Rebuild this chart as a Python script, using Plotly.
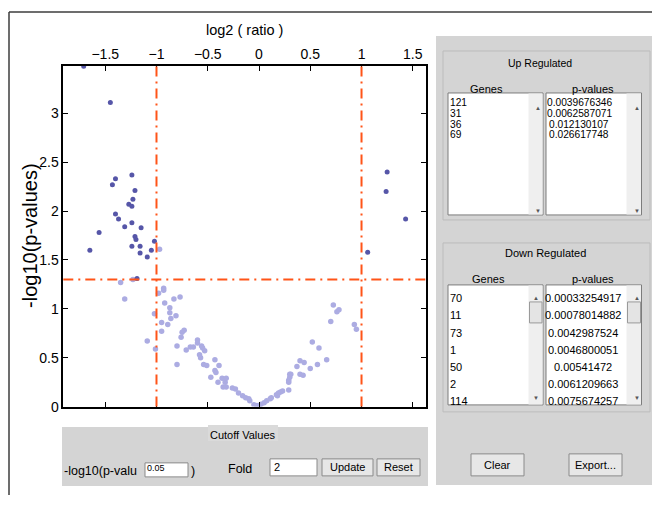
import plotly.graph_objects as go

# ---------------- data ----------------
# non-significant genes (light points)
ns_x = [-0.97, -1.35, -1.23, -1.31, -0.98, -0.93, -0.93, -0.77, -0.83, -0.92, -0.87, -1.02,
        -0.87, -0.81, -0.86, -0.95, -0.89, -0.73, -0.75, -0.95, -0.76, -1.09, -0.60, -0.60,
        -0.80, -0.56, -0.55, -1.01, -0.67, -0.64, -0.71, -0.53, -0.58, -0.57, -0.43, -0.80,
        -0.54, -0.51, -0.39, -0.43, -0.42, -0.47, -0.36, -0.32, -0.40, -0.33, -0.35, -0.32,
        -0.26, -0.23, -0.20, -0.16, -0.13, -0.10, -0.09, -0.05, -0.02, 0.00,
        0.02, 0.05, 0.075, 0.11, 0.12, 0.17, 0.18, 0.19, 0.21, 0.23, 0.29, 0.29, 0.30, 0.29,
        0.31, 0.30, 0.37, 0.40, 0.44, 0.40, 0.43, 0.50, 0.57, 0.52, 0.585, 0.66, 0.70, 0.725,
        0.76, 0.78, 0.93, 0.95]
ns_y = [1.61, 1.27, 1.30, 1.10, 1.16, 1.21, 1.19, 1.12, 1.10, 1.06, 1.01, 0.95,
        0.96, 0.93, 0.90, 0.86, 0.84, 0.78, 0.76, 0.77, 0.71, 0.67, 0.68, 0.65,
        0.62, 0.62, 0.60, 0.59, 0.61, 0.61, 0.58, 0.57, 0.53, 0.50, 0.48, 0.43,
        0.43, 0.42, 0.42, 0.37, 0.35, 0.30, 0.29, 0.29, 0.25, 0.25, 0.20, 0.20,
        0.19, 0.18, 0.14, 0.11, 0.09, 0.08, 0.06, 0.02, 0.01, 0.005,
        0.025, 0.04, 0.06, 0.08, 0.09, 0.12, 0.11, 0.14, 0.15, 0.16, 0.17, 0.27, 0.30, 0.25,
        0.33, 0.33, 0.41, 0.47, 0.45, 0.33, 0.32, 0.39, 0.43, 0.66, 0.60, 0.48, 0.87, 1.04,
        0.97, 0.99, 0.84, 0.79]

# down-regulated genes (dark points, left)
down_x = [-1.71, -1.45, -1.40, -1.43, -1.24, -1.21, -1.23, -1.27, -1.24, -1.40, -1.37, -1.24,
          -1.31, -1.15, -1.56, -1.21, -1.20, -1.02, -1.24, -1.16, -1.65, -1.05, -1.16, -1.09,
          -1.19]
down_y = [3.48, 3.11, 2.33, 2.27, 2.37, 2.21, 2.12, 2.07, 2.05, 1.97, 1.92, 1.88,
          1.84, 1.83, 1.78, 1.74, 1.71, 1.69, 1.64, 1.64, 1.60, 1.60, 1.57, 1.53,
          1.31]

# up-regulated genes (dark points, right)
up_x = [1.25, 1.24, 1.43, 1.06]
up_y = [2.40, 2.20, 1.92, 1.58]

# cut-offs
fold_cutoff_log2 = 1.0
pval_cutoff_log10 = 1.301

x_ticks = [-1.5, -1, -0.5, 0, 0.5, 1, 1.5]
y_ticks = [0, 0.5, 1, 1.5, 2, 2.5, 3]

up_genes = ["121", "31", "36", "69"]
up_pvals = ["0.0039676346", "0.0062587071", "0.012130107", "0.026617748"]
down_genes = ["70", "11", "73", "1", "50", "2", "114"]
down_pvals = ["0.00033254917", "0.00078014882", "0.0042987524", "0.0046800051",
              "0.00541472", "0.0061209663", "0.0075674257"]

# ---------------- figure ----------------
W, H = 658, 510
K = 518 / 510  # vertical layout factor


def fx(p):
    return p / W


def fy(p):
    return 1 - p * K / H


FONT = "Liberation Sans, Arial, Helvetica, sans-serif"
LIGHT = "rgb(172,172,226)"
DARK = "rgb(86,86,168)"
CUT = "rgb(255,84,24)"
PANEL = "#d4d4d4"

fig = go.Figure()
fig.add_trace(go.Scatter(x=ns_x, y=ns_y, mode="markers",
                         marker=dict(color=LIGHT, size=5.5, line=dict(width=0)),
                         hoverinfo="x+y", showlegend=False))
fig.add_trace(go.Scatter(x=down_x, y=down_y, mode="markers",
                         marker=dict(color=DARK, size=5, line=dict(width=0)),
                         hoverinfo="x+y", showlegend=False))
fig.add_trace(go.Scatter(x=up_x, y=up_y, mode="markers",
                         marker=dict(color=DARK, size=5, line=dict(width=0)),
                         hoverinfo="x+y", showlegend=False))

dash = "10px,5px,2px,5px"
for xv in (-fold_cutoff_log2, fold_cutoff_log2):
    fig.add_shape(type="line", xref="x", yref="y domain", x0=xv, x1=xv, y0=0, y1=1,
                  line=dict(color=CUT, width=2, dash=dash))
fig.add_shape(type="line", xref="x domain", yref="y", x0=0, x1=1,
              y0=pval_cutoff_log10, y1=pval_cutoff_log10,
              line=dict(color=CUT, width=2, dash=dash))

shapes = []


def rect(x0, y0, x1, y1, fill=None, line="#808080", lw=1):
    shapes.append(dict(type="rect", xref="paper", yref="paper", layer="below",
                       x0=fx(x0), x1=fx(x1), y0=fy(y1), y1=fy(y0),
                       fillcolor=fill if fill else "rgba(0,0,0,0)",
                       line=dict(color=line, width=lw)))


def hline(x0, x1, y, color="#3c3c3c", lw=1.5):
    shapes.append(dict(type="line", xref="paper", yref="paper", layer="below",
                       x0=fx(x0), x1=fx(x1), y0=fy(y), y1=fy(y),
                       line=dict(color=color, width=lw)))


def vline(x, y0, y1, color="#3c3c3c", lw=1.5):
    shapes.append(dict(type="line", xref="paper", yref="paper", layer="below",
                       x0=fx(x), x1=fx(x), y0=fy(y0), y1=fy(y1),
                       line=dict(color=color, width=lw)))


# outer window frame
hline(9, 652, 12)
vline(9, 12, 495)

# right panel
rect(436, 36, 652, 485, fill=PANEL, line=PANEL, lw=0)
# up regulated frame
rect(443, 51, 650, 220, line="#bcbcbc")
rect(448, 93, 543, 215, fill="white", line="#7c7c7c")
rect(528.5, 93.5, 542.5, 214.5, fill="#efefef", line="#efefef", lw=0)
rect(546, 93, 641.5, 215, fill="white", line="#7c7c7c")
rect(626.5, 93.5, 641, 214.5, fill="#efefef", line="#efefef", lw=0)
# down regulated frame
rect(443, 243, 650, 412, line="#bcbcbc")
rect(448, 285, 543, 405, fill="white", line="#7c7c7c")
rect(528.5, 285.5, 542.5, 404.5, fill="#efefef", line="#efefef", lw=0)
rect(529.5, 302, 542, 323, fill="#e4e4e4", line="#9a9a9a")
rect(546, 285, 641.5, 405, fill="white", line="#7c7c7c")
rect(626.5, 285.5, 641, 404.5, fill="#efefef", line="#efefef", lw=0)
rect(627.5, 302, 640.5, 323, fill="#e4e4e4", line="#9a9a9a")
# buttons
rect(471, 454, 524, 476, fill="#e7e7e7", line="#8a8a8a")
rect(569, 454, 622, 476, fill="#e7e7e7", line="#8a8a8a")

# cutoff panel
rect(62, 427, 428, 486, fill=PANEL, line=PANEL, lw=0)
rect(208, 425, 278, 441, fill="#dadada", line="#dadada", lw=0)
rect(145, 463, 188, 477, fill="white", line="#8a8a8a")
rect(270, 459, 317, 476, fill="white", line="#8a8a8a")
rect(322, 459, 373, 476, fill="#e7e7e7", line="#8a8a8a")
rect(377, 459, 420, 476, fill="#e7e7e7", line="#8a8a8a")

ann = []


def text(s, x, y, size=11, xanchor="center", color="black", angle=0):
    ann.append(dict(text=s, x=fx(x), y=fy(y), xref="paper", yref="paper",
                    xanchor=xanchor, yanchor="middle", showarrow=False, borderpad=0,
                    textangle=angle, font=dict(family=FONT, size=size, color=color)))


# axis titles
text("log2 ( ratio )", 244, 30, size=14.5)
text("-log10(p-values)", 30, 236, size=20, angle=-90)

# up regulated
text("Up Regulated", 540, 63, size=10.5)
text("Genes", 487, 89, size=11)
text("p-values", 593, 89, size=11)
for i, (g, p) in enumerate(zip(up_genes, up_pvals)):
    yy = 102.7 + i * 10.7
    text(g, 449, yy, size=10.2, xanchor="left")
    text(p, 579, yy, size=10.2)
for xa in (538.3, 636.5):
    text("▲", xa, 108, size=6, color="#555555")
    text("▼", xa, 211, size=6, color="#555555")

# down regulated
text("Down Regulated", 545, 253, size=11)
text("Genes", 488, 279, size=11)
text("p-values", 593, 279, size=11)
for i, (g, p) in enumerate(zip(down_genes, down_pvals)):
    yy = 298.3 + i * 17.2
    text(g, 449, yy, size=11, xanchor="left")
    text(p, 583, yy, size=11)
for xa in (536, 636.5):
    text("▲", xa, 298, size=6, color="#555555")
    text("▼", xa, 398, size=6, color="#555555")

text("Clear", 497.5, 465, size=11)
text("Export...", 595.5, 465, size=11)

# cutoff panel
text("Cutoff Values", 243, 435, size=11)
text("-log10(p-valu", 63, 471.5, size=12.5, xanchor="left")
text("0.05", 146, 468, size=9, xanchor="left")
text(")", 193, 471.5, size=12.5)
text("Fold", 240, 469, size=12.5)
text("2", 273, 467.5, size=11, xanchor="left")
text("Update", 347.5, 467.5, size=11)
text("Reset", 398.5, 467.5, size=11)

axis_common = dict(showgrid=False, zeroline=False, showline=True, linecolor="black",
                   linewidth=1.5, mirror="allticks", ticks="inside", ticklen=5,
                   tickcolor="black", tickwidth=1,
                   tickfont=dict(family=FONT, size=14, color="black"))

fig.update_layout(
    width=W, height=H, autosize=False,
    margin=dict(l=0, r=0, t=0, b=0, pad=0),
    paper_bgcolor="white", plot_bgcolor="white",
    showlegend=False,
    xaxis=dict(domain=[fx(63.3), fx(426)], range=[-1.909, 1.629], side="top",
               tickvals=x_ticks, **axis_common),
    yaxis=dict(domain=[fy(406.7), fy(66)], range=[0, 3.484],
               tickvals=y_ticks, **axis_common),
    shapes=list(fig.layout.shapes) + shapes,
    annotations=ann,
)

fig.write_html("out.html")
